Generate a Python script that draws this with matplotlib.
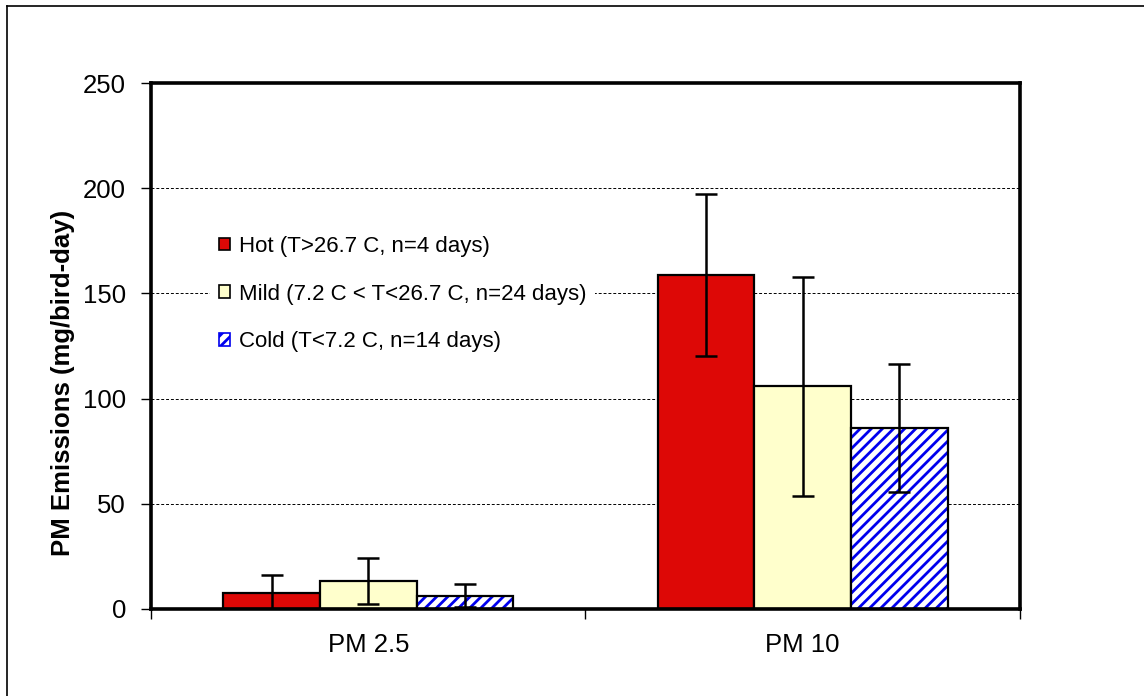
import matplotlib
matplotlib.use("Agg")
import matplotlib.pyplot as plt
from matplotlib.lines import Line2D
from matplotlib.patches import Patch
import numpy as np

plt.rcParams['font.family'] = ['Liberation Sans', 'DejaVu Sans']
plt.rcParams['hatch.linewidth'] = 2.0

categories = ["PM 2.5", "PM 10"]
labels = ["Hot (T>26.7 C, n=4 days)",
          "Mild (7.2 C < T<26.7 C, n=24 days)",
          "Cold (T<7.2 C, n=14 days)"]
hot = [7.5, 158.7]
hot_err = [8.7, 38.6]
mild = [13.4, 105.8]
mild_err = [10.8, 52.1]
cold = [6.3, 85.9]
cold_err = [5.4, 30.5]
yticks = [0, 50, 100, 150, 200, 250]

fig = plt.figure(figsize=(11.44, 6.96), dpi=100)
ax = fig.add_axes([0.132, 0.125, 0.7596, 0.7557])

x = np.arange(len(categories))
w = 1 / 4.5
ebkw = dict(ecolor="black", elinewidth=1.8, capsize=8, capthick=1.8)

ax.bar(x - w, hot, w, color="#DD0806", edgecolor="black", linewidth=1.6,
       yerr=hot_err, error_kw=ebkw, zorder=3)
ax.bar(x, mild, w, color="#FFFFCC", edgecolor="black", linewidth=1.6,
       yerr=mild_err, error_kw=ebkw, zorder=3)
# cold bars: blue hatch, then black outline on top
ax.bar(x + w, cold, w, color="white", edgecolor="#0000EE", hatch="///",
       linewidth=0, zorder=3)
ax.bar(x + w, cold, w, fill=False, edgecolor="black", linewidth=1.6,
       yerr=cold_err, error_kw=ebkw, zorder=4)

ax.set_xlim(-0.5, 1.5)
ax.set_ylim(0, 250)
ax.set_yticks(yticks)
ax.set_xticks(x)
ax.set_xticklabels(categories)
ax.set_xticks([-0.5, 0.5, 1.5], minor=True)
ax.tick_params(axis="x", which="major", length=0, pad=17, labelsize=18.5)
ax.tick_params(axis="x", which="minor", length=7, width=1, direction="out")
ax.tick_params(axis="y", length=7, width=1, direction="out", pad=11, labelsize=18.5)

ax.yaxis.grid(True, color="black", linestyle=(0, (3, 2)), linewidth=0.7, zorder=0)
ax.set_axisbelow(True)
for s in ax.spines.values():
    s.set_linewidth(2.6)
    s.set_zorder(5)

ax.set_ylabel("PM Emissions (mg/bird-day)", fontsize=18.5, fontweight="bold")
ax.yaxis.set_label_coords(-0.088, 0.43)

handles = [Patch(facecolor="#DD0806", edgecolor="black", linewidth=1.2),
           Patch(facecolor="#FFFFCC", edgecolor="black", linewidth=1.2),
           Patch(facecolor="white", edgecolor="#0000EE", hatch="///", linewidth=1.2)]
leg = ax.legend(handles, labels, loc="upper left", bbox_to_anchor=(0.068, 0.726),
                frameon=True, fancybox=False, facecolor="white", edgecolor="none",
                framealpha=1, fontsize=16, handlelength=0.5, handleheight=0.5,
                handletextpad=0.4, labelspacing=1.2, borderpad=0.4, borderaxespad=0)
leg.set_zorder(2)

# outer border (left and top edges visible)
fig.add_artist(Line2D([0.006, 0.006], [0, 0.992], color="black", linewidth=1.2))
fig.add_artist(Line2D([0.006, 1.0], [0.992, 0.992], color="black", linewidth=1.2))

fig.savefig("out.png", dpi=100)
